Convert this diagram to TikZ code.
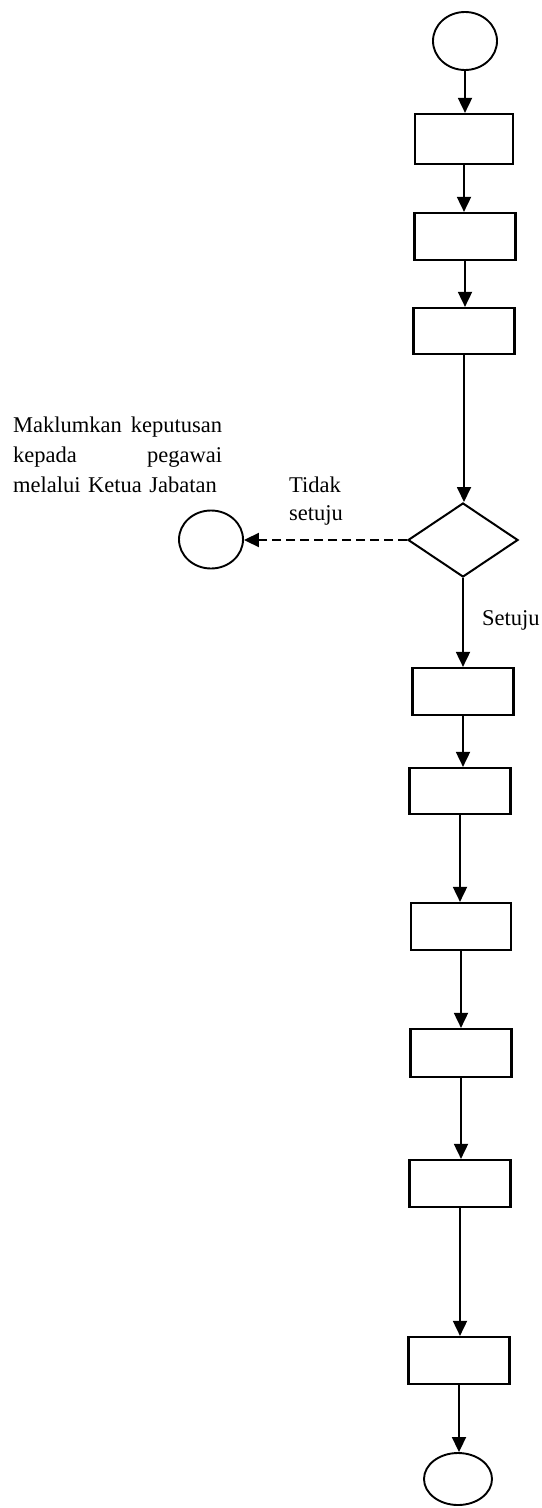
\documentclass[tikz,border=0pt]{standalone}
\usepackage{fontspec}
\setmainfont{Liberation Serif}
\usetikzlibrary{shapes.geometric,arrows.meta}
\newcommand{\reffont}{\fontsize{22.5bp}{30bp}\selectfont}
\newcommand{\reffonttwo}{\fontsize{22.5bp}{28bp}\selectfont}
\tikzset{
  stepbox/.style={draw, rectangle, line width=2.2bp, inner sep=0pt, minimum width=101bp, minimum height=47bp},
  termnode/.style={draw, ellipse, line width=1.9bp, inner sep=0pt, minimum width=64bp, minimum height=58bp},
  decnode/.style={draw, diamond, line width=2bp, inner sep=0pt, minimum width=110bp, minimum height=74bp},
  flow/.style={line width=1.8bp, -{Triangle[length=15bp,width=14bp]}},
  dflow/.style={line width=1.9bp, dash pattern=on 9bp off 5bp, -{Triangle[length=15bp,width=14bp]}},
  lbl/.style={inner sep=0pt, font=\reffont}
}
\begin{document}
\begin{tikzpicture}[x=1bp,y=-1bp]
\useasboundingbox[fill=white] (0,0) rectangle (542,1508);
\node[termnode] (start) at (465,41) {};
\node[stepbox, minimum width=98bp, minimum height=50bp] (b1) at (464,139) {};
\node[stepbox] (b2) at (465,236.5) {};
\node[stepbox, minimum height=46bp] (b3) at (464,331) {};
\node[decnode] (dia) at (463,540) {};
\node[termnode] (left) at (211,539.5) {};
\node[stepbox] (b4) at (463,691.5) {};
\node[stepbox, minimum height=46bp] (b5) at (460,791) {};
\node[stepbox, minimum width=100bp] (b6) at (461,926.5) {};
\node[stepbox, minimum height=48bp] (b7) at (461,1053) {};
\node[stepbox] (b8) at (460,1183.5) {};
\node[stepbox] (b9) at (459,1360.5) {};
\node[termnode, minimum width=68bp, minimum height=52bp] (end) at (458,1479) {};

\node[lbl, anchor=north west, text width=209bp, align=left] (note) at (13,416.6)
  {Maklumkan\hfill keputusan\\kepada\hfill pegawai\\melalui Ketua Jabatan};
\node[inner sep=0pt, font=\reffonttwo, anchor=north west, align=left] (tidak) at (289,476.6) {Tidak\\setuju};
\node[lbl, anchor=base west] (setuju) at (482,625) {Setuju};

\draw[flow] (start.south) -- (start.south |- b1.north);
\draw[flow] (b1.south) -- (b1.south |- b2.north);
\draw[flow] (b2.south) -- (b2.south |- b3.north);
\draw[flow] (b3.south) -- (b3.south |- dia.north);
\draw[dflow] (dia.west) -- (dia.west -| left.east);
\draw[flow] (dia.south) -- (dia.south |- b4.north);
\draw[flow] (b4.south) -- (b4.south |- b5.north);
\draw[flow] (b5.south) -- (b5.south |- b6.north);
\draw[flow] (b6.south) -- (b6.south |- b7.north);
\draw[flow] (b7.south) -- (b7.south |- b8.north);
\draw[flow] (b8.south) -- (b8.south |- b9.north);
\draw[flow] (b9.south) -- (b9.south |- end.north);
\end{tikzpicture}
\end{document}
